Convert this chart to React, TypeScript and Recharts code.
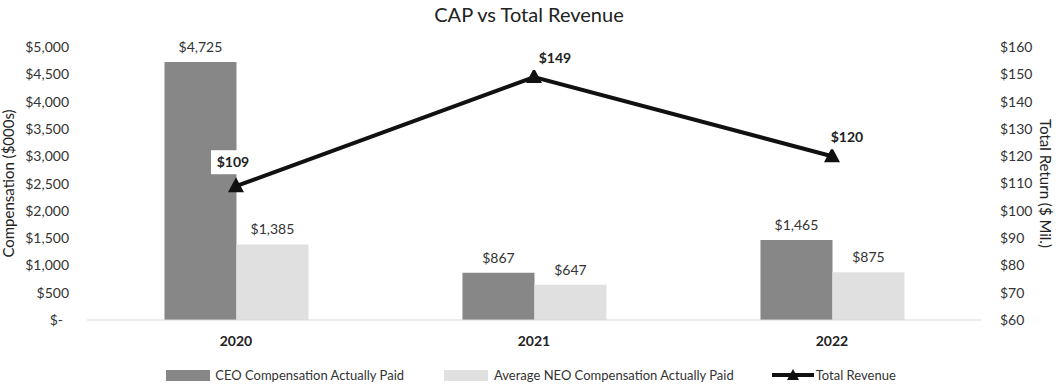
import React from "react"
import {
  ComposedChart,
  Bar,
  Line,
  XAxis,
  YAxis,
  CartesianGrid,
  LabelList,
  ReferenceLine,
} from "recharts"

const years = ["2020", "2021", "2022"]
const ceoCap = [4725, 867, 1465]
const neoCap = [1385, 647, 875]
const totalRevenue = [109, 149, 120]
const leftTicks = [0, 500, 1000, 1500, 2000, 2500, 3000, 3500, 4000, 4500, 5000]
const rightTicks = [60, 70, 80, 90, 100, 110, 120, 130, 140, 150, 160]

const data = years.map((year, i) => ({
  year,
  ceo: ceoCap[i],
  neo: neoCap[i],
  revenue: totalRevenue[i],
}))

const FONT = "Lato, 'Open Sans', sans-serif"
const CEO_COLOR = "#878787"
const NEO_COLOR = "#e0e0e0"

const fmtMoney = (v: number) => (v === 0 ? "$-" : "$" + v.toLocaleString("en-US"))

const LeftTick = (props: any) => {
  const { x, y, payload } = props
  const shift = payload.value === 0 ? -6 : 0
  return (
    <text x={x + shift} y={y} dy={5} textAnchor="end" fontSize={14} fill="#333" fontFamily={FONT}>
      {fmtMoney(payload.value)}
    </text>
  )
}

const Triangle = (props: any) => {
  const { cx, cy } = props
  if (cx == null || cy == null) return null
  return <path d={`M${cx},${cy - 9} L${cx + 8},${cy + 6} L${cx - 8},${cy + 6} Z`} fill="#111" />
}

// label offsets for the revenue line labels
const lineLabelOffsets = [
  { dx: -3, dy: -24 },
  { dx: 21, dy: -19 },
  { dx: 15, dy: -19 },
]

const RevenueLabel = (props: any) => {
  const { x, y, value, index } = props
  const off = lineLabelOffsets[index] || { dx: 0, dy: -18 }
  const cx = x + off.dx
  const cy = y + off.dy
  return (
    <g>
      <rect x={cx - 22} y={cy - 12} width={44} height={24} fill="#fff" />
      <text x={cx} y={cy} dy={5} textAnchor="middle" fontSize={14} fontWeight="bold" fill="#222" fontFamily={FONT}>
        {"$" + value}
      </text>
    </g>
  )
}

const LegendRow = () => (
  <div
    style={{
      position: "absolute",
      top: 367,
      left: 0,
      width: 1062,
      display: "flex",
      justifyContent: "center",
      alignItems: "center",
      fontFamily: FONT,
      fontSize: 13,
      color: "#333",
    }}
  >
    <div style={{ display: "flex", alignItems: "center", marginRight: 40 }}>
      <span style={{ width: 44, height: 11, background: CEO_COLOR, marginRight: 5 }} />
      CEO Compensation Actually Paid
    </div>
    <div style={{ display: "flex", alignItems: "center", marginRight: 38 }}>
      <span style={{ width: 44, height: 11, background: NEO_COLOR, marginRight: 6 }} />
      Average NEO Compensation Actually Paid
    </div>
    <div style={{ display: "flex", alignItems: "center" }}>
      <svg width={42} height={14} style={{ marginRight: 2 }}>
        <line x1={0} y1={7} x2={42} y2={7} stroke="#111" strokeWidth={4} />
        <path d="M21,1 L27,12 L15,12 Z" fill="#111" />
      </svg>
      Total Revenue
    </div>
  </div>
)

export default function App() {
  return (
    <div style={{ position: "absolute", left: 0, top: 0, width: 1058, height: 386, background: "#fff" }}>
      <div
        style={{
          position: "absolute",
          top: 2,
          left: 0,
          width: 1058,
          textAlign: "center",
          fontFamily: FONT,
          fontSize: 20,
          color: "#222",
        }}
      >
        CAP vs Total Revenue
      </div>
      <ComposedChart
        width={1058}
        height={386}
        data={data}
        margin={{ top: 47, right: 0, left: 0, bottom: 36 }}
        barCategoryGap="26%"
        barGap={0}
      >
        <CartesianGrid horizontal={false} vertical={false} />
        <XAxis
          dataKey="year"
          axisLine={false}
          tickLine={false}
          height={30}
          tickMargin={10}
          tick={{ fontSize: 14, fontWeight: "bold", fill: "#222", fontFamily: FONT }}
        />
        <YAxis
          yAxisId="left"
          width={87}
          domain={[0, 5000]}
          ticks={leftTicks}
          axisLine={false}
          tickLine={false}
          tickSize={0}
          tickMargin={0}
          tick={(p: any) => <LeftTick {...p} x={p.x - 18} />}
          interval={0}
          label={{
            value: "Compensation ($000s)",
            angle: -90,
            position: "insideLeft",
            dx: 4,
            style: { textAnchor: "middle", fontSize: 15, fill: "#222", fontFamily: FONT },
          }}
        />
        <YAxis
          yAxisId="right"
          orientation="right"
          width={77}
          domain={[60, 160]}
          ticks={rightTicks}
          axisLine={false}
          tickLine={false}
          tickSize={0}
          tickMargin={19}
          interval={0}
          tickFormatter={(v: number) => "$" + v}
          tick={{ fontSize: 14, fill: "#333", fontFamily: FONT, textAnchor: "start" }}
          label={{
            value: "Total Return ($ Mil.)",
            angle: 90,
            position: "insideRight",
            dx: -8,
            style: { textAnchor: "middle", fontSize: 15, fill: "#222", fontFamily: FONT },
          }}
        />
        <ReferenceLine yAxisId="left" y={0} stroke="#d9d9d9" strokeWidth={1} />
        <Bar yAxisId="left" dataKey="ceo" fill={CEO_COLOR} isAnimationActive={false}>
          <LabelList
            dataKey="ceo"
            position="top"
            offset={10}
            formatter={(v: any) => fmtMoney(v)}
            style={{ fontSize: 14, fill: "#333", fontFamily: FONT }}
          />
        </Bar>
        <Bar yAxisId="left" dataKey="neo" fill={NEO_COLOR} isAnimationActive={false}>
          <LabelList
            dataKey="neo"
            position="top"
            offset={10}
            formatter={(v: any) => fmtMoney(v)}
            style={{ fontSize: 14, fill: "#333", fontFamily: FONT }}
          />
        </Bar>
        <Line
          yAxisId="right"
          dataKey="revenue"
          stroke="#111"
          strokeWidth={4}
          dot={<Triangle />}
          activeDot={false}
          isAnimationActive={false}
        >
          <LabelList dataKey="revenue" content={<RevenueLabel />} />
        </Line>
      </ComposedChart>
      <LegendRow />
    </div>
  )
}
